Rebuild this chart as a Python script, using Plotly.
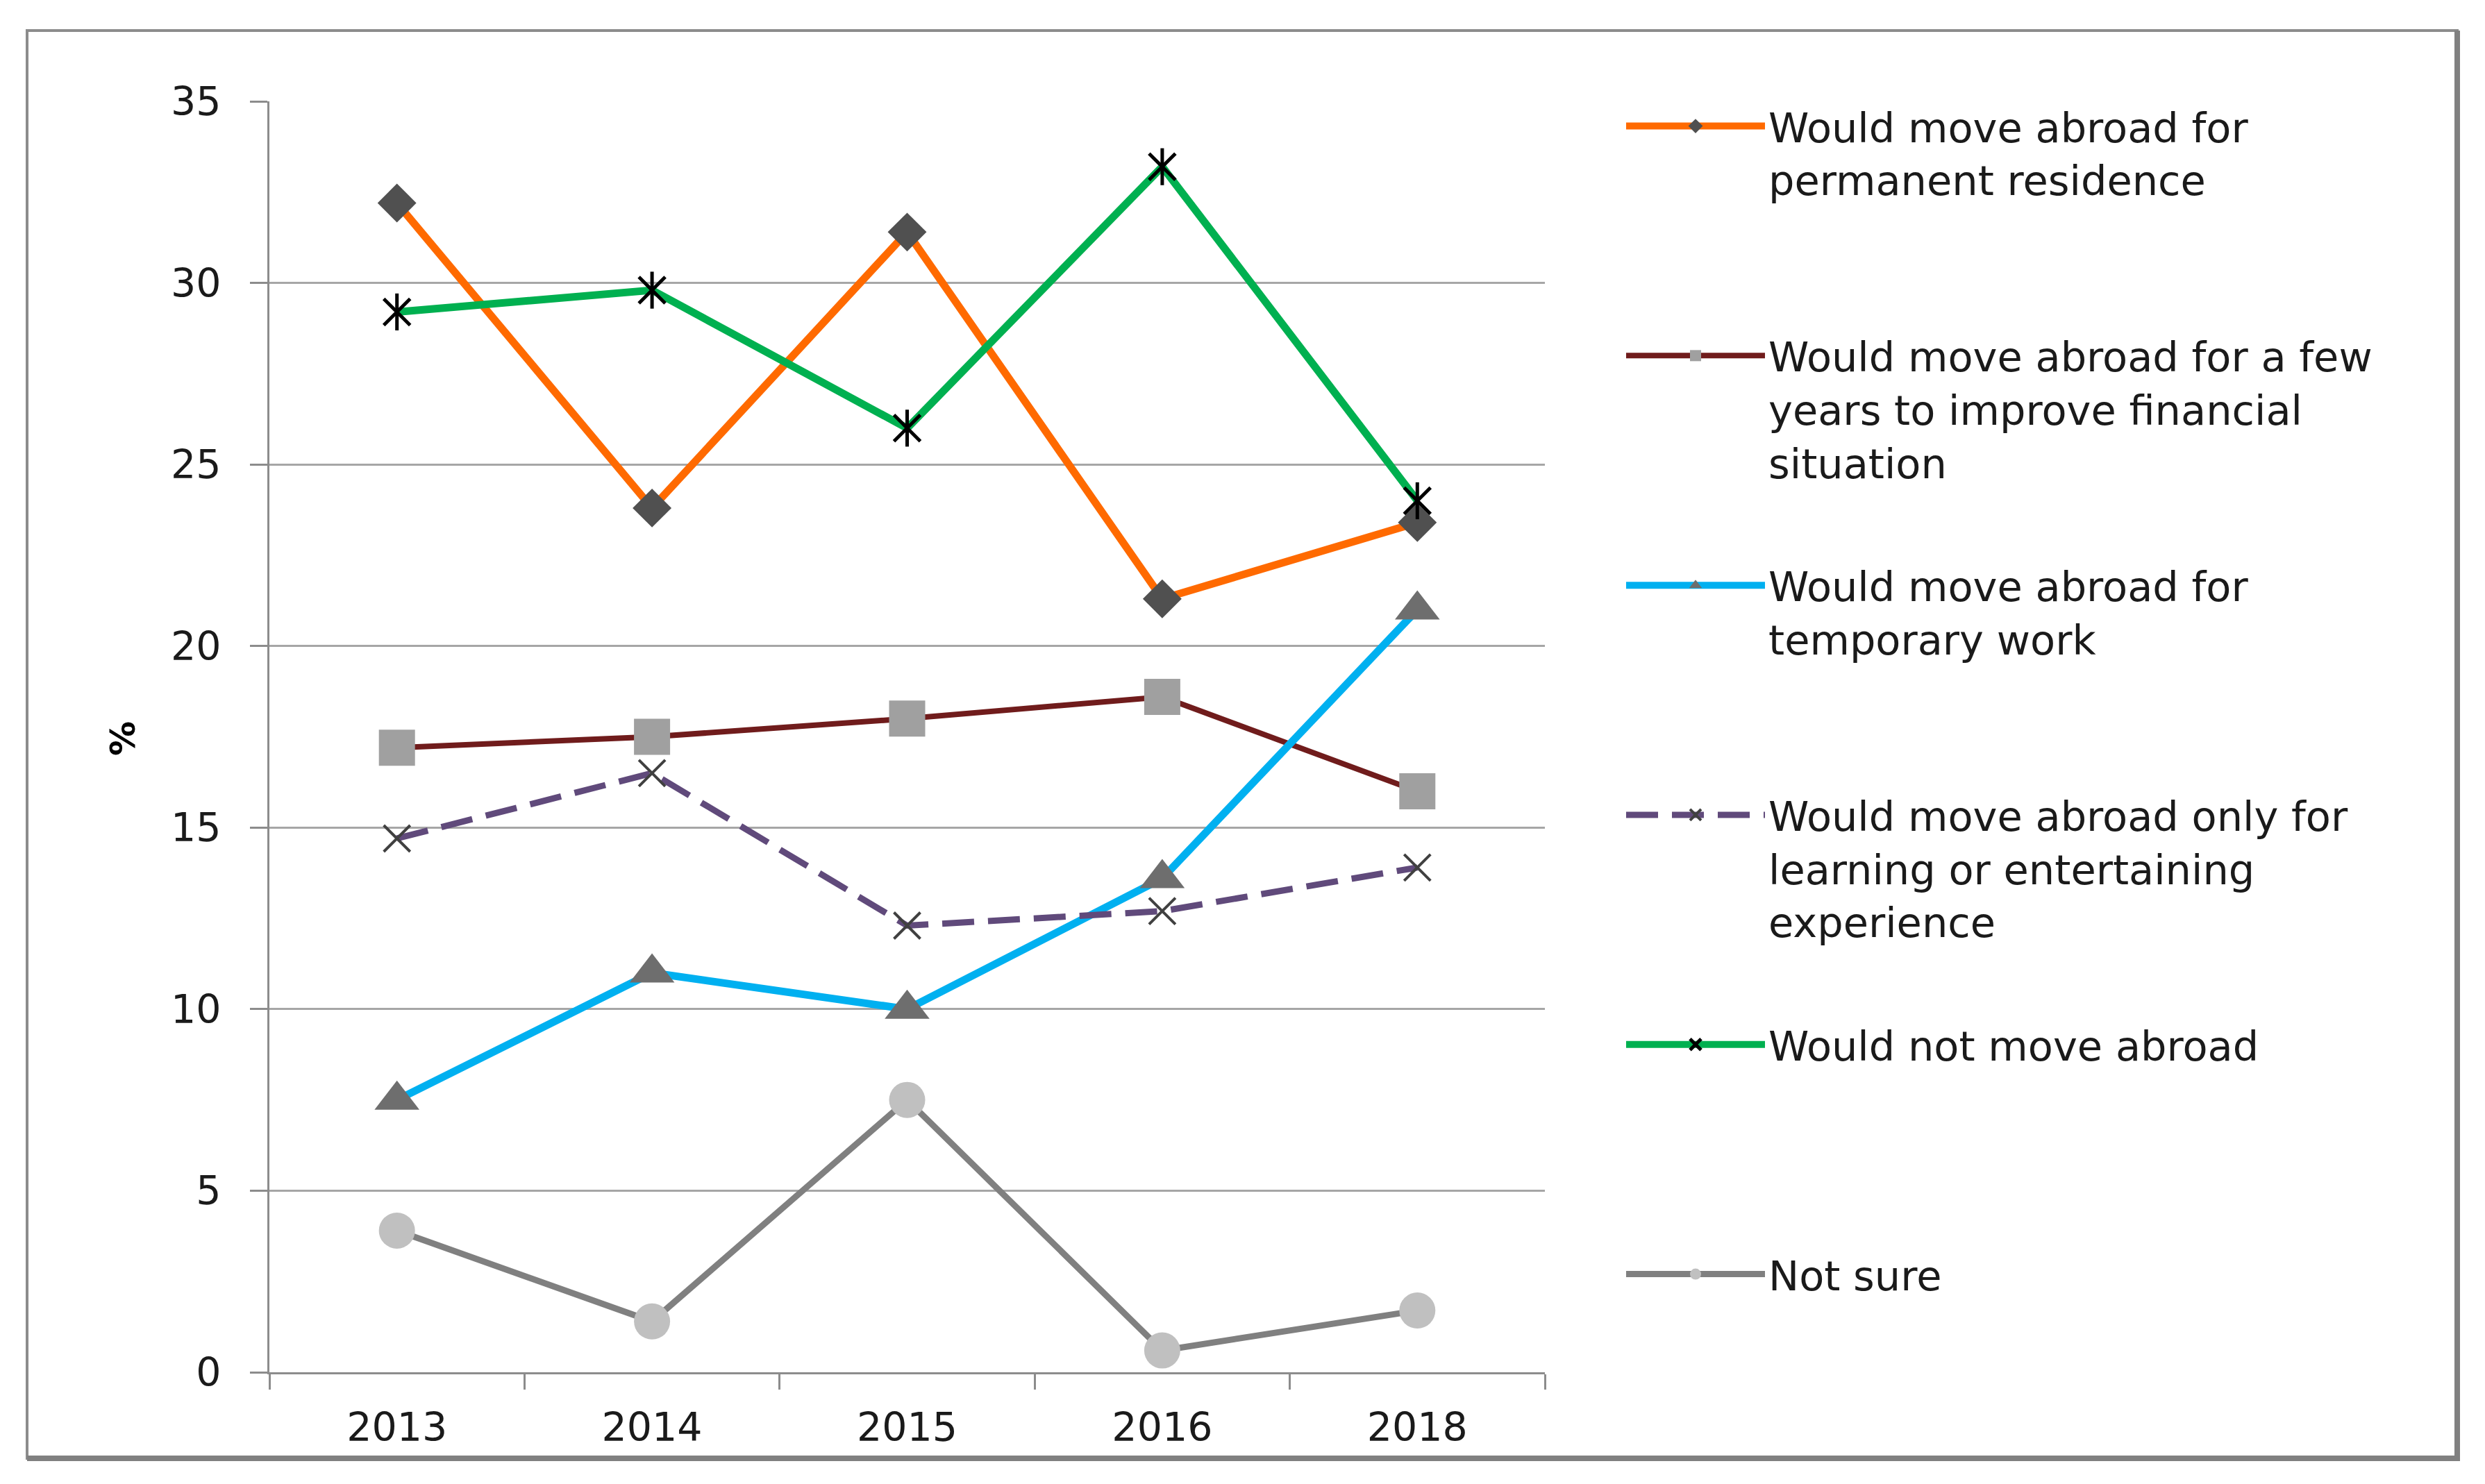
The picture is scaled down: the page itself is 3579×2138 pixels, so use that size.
import plotly.graph_objects as go

W, H = 3579, 2138
OFF = 8  # page body offset of the rendered figure, in pixels
# plot area measured on the reference picture (pixels)
REF_L, REF_R, REF_T, REF_B = 388, 2225, 146, 1977
PL, PR, PT, PB = REF_L - OFF, REF_R - OFF, REF_T - OFF, REF_B - OFF

years = ["2013", "2014", "2015", "2016", "2018"]
permanent = [32.2, 23.8, 31.4, 21.3, 23.4]
few_years = [17.2, 17.5, 18.0, 18.6, 16.0]
temporary = [7.5, 11.0, 10.0, 13.6, 21.0]
learning = [14.7, 16.5, 12.3, 12.7, 13.9]
not_move = [29.2, 29.8, 26.0, 33.2, 24.0]
not_sure = [3.9, 1.4, 7.5, 0.6, 1.7]

NB = "\u00a0"
names = [
    NB + "<br>Would move abroad for<br>permanent residence",
    NB + "<br>" + NB + "<br>Would move abroad for a few<br>years to improve financial<br>situation",
    NB + "<br>Would move abroad for<br>temporary work",
    NB + "<br>" + NB + "<br>Would move abroad only for<br>learning or entertaining<br>experience",
    NB + "<br>Would not move abroad<br>" + NB,
    NB + "<br>" + NB + "<br>Not sure<br>" + NB + "<br>" + NB,
]


def px_x(p):
    # reference pixel -> paper fraction
    return (p - REF_L) / (REF_R - REF_L)


def px_y(p):
    return (REF_B - p) / (REF_B - REF_T)


fig = go.Figure()

fig.add_trace(go.Scatter(
    x=years, y=permanent, name=names[0], mode="lines+markers", legendgroup="g1",
    line=dict(color="#FF6A00", width=11),
    marker=dict(symbol="diamond", size=43, color="#505050")))
fig.add_trace(go.Scatter(
    x=years, y=few_years, name=names[1], mode="lines+markers", legendgroup="g2",
    line=dict(color="#701C1C", width=8),
    marker=dict(symbol="square", size=52, color="#A0A0A0")))
fig.add_trace(go.Scatter(
    x=years, y=temporary, name=names[2], mode="lines+markers", legendgroup="g3",
    line=dict(color="#00B0F0", width=11),
    marker=dict(symbol="triangle-up", size=56, color="#6E6E6E")))
fig.add_trace(go.Scatter(
    x=years, y=learning, name=names[3], mode="lines+markers", legendgroup="g4",
    line=dict(color="#604A7B", width=9, dash="46px,20px"),
    marker=dict(symbol="x-thin-open", size=38, color="#404040",
                line=dict(color="#404040", width=4))))
fig.add_trace(go.Scatter(
    x=years, y=not_move, name=names[4], mode="lines+markers", legendgroup="g5",
    line=dict(color="#00B050", width=11),
    marker=dict(symbol="x-thin-open", size=38, color="#000000",
                line=dict(color="#000000", width=5))))
fig.add_trace(go.Scatter(
    x=years, y=not_move, name="not_move_vertical", mode="markers", legendgroup="g5",
    showlegend=False,
    marker=dict(symbol="line-ns-open", size=38, color="#000000",
                line=dict(color="#000000", width=5))))
fig.add_trace(go.Scatter(
    x=years, y=not_sure, name=names[5], mode="lines+markers", legendgroup="g6",
    line=dict(color="#808080", width=9),
    marker=dict(symbol="circle", size=52, color="#C0C0C0")))

axis_gray = "#8C8C8C"
font_family = "DejaVu Sans"

fig.update_layout(
    width=W, height=H,
    margin=dict(l=PL, r=W - PR, t=PT, b=H - PB, pad=0),
    paper_bgcolor="white", plot_bgcolor="white",
    font=dict(family=font_family, size=57, color="#1A1A1A"),
    showlegend=True,
    legend=dict(
        x=px_x(2337), y=px_y(60), xanchor="left", yanchor="top",
        font=dict(family=font_family, size=59, color="#1A1A1A"),
        tracegroupgap=21, itemwidth=200, bgcolor="rgba(0,0,0,0)",
        traceorder="grouped", maxheight=2130,
    ),
    xaxis=dict(
        type="category", categoryorder="array", categoryarray=years,
        range=[-0.5, 4.5], showgrid=False, zeroline=False,
        showline=True, linecolor=axis_gray, linewidth=3,
        ticks="outside", tickson="boundaries", ticklen=22, tickwidth=3,
        tickcolor=axis_gray, ticklabelstandoff=28,
        tickfont=dict(family=font_family, size=57, color="#1A1A1A"),
    ),
    yaxis=dict(
        range=[0, 35], dtick=5, tick0=0, showgrid=True, gridcolor="#A6A6A6",
        gridwidth=3, zeroline=False, showline=True, linecolor=axis_gray,
        linewidth=3, ticks="outside", ticklen=25, tickwidth=3,
        tickcolor=axis_gray, ticklabelstandoff=30,
        tickfont=dict(family=font_family, size=57, color="#1A1A1A"),
    ),
    annotations=[dict(
        text="<b>%</b>", xref="paper", yref="paper",
        x=px_x(177), y=px_y(1064), xanchor="center", yanchor="middle",
        textangle=-90, showarrow=False,
        font=dict(family=font_family, size=50, color="#000000"),
    )],
    shapes=[
        dict(type="rect", xref="paper", yref="paper",
             x0=px_x(39), x1=px_x(3539), y0=px_y(2101), y1=px_y(44),
             line=dict(color="#8C8C8C", width=4), fillcolor="rgba(0,0,0,0)",
             layer="below"),
        dict(type="line", xref="paper", yref="paper",
             x0=px_x(3539), x1=px_x(3539), y0=px_y(2103), y1=px_y(44),
             line=dict(color="#808080", width=8)),
        dict(type="line", xref="paper", yref="paper",
             x0=px_x(39), x1=px_x(3543), y0=px_y(2101), y1=px_y(2101),
             line=dict(color="#808080", width=8)),
    ],
)

fig.write_html("out.html")
